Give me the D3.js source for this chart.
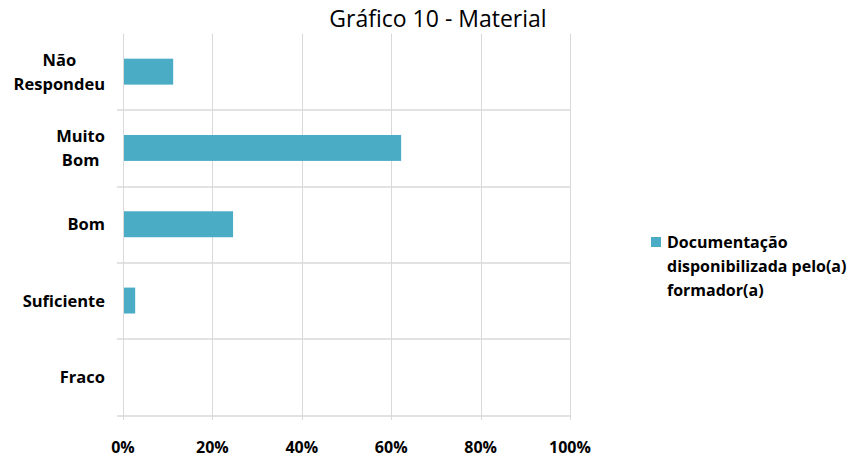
<!DOCTYPE html>
<html>
<head>
<meta charset="utf-8">
<script src="https://cdn.jsdelivr.net/npm/d3@7"></script>
<style>
	body { margin: 0; background: #fff; }
	text { font-family: "Open Sans", Lato, sans-serif; fill: #000; }
</style>
</head>
<body>
<div id="chart-area"></div>
<script>
// DATA
const categories = ["Não Respondeu", "Muito Bom", "Bom", "Suficiente", "Fraco"]
const categoryLines = [["Não", "Respondeu"], ["Muito", "Bom"], ["Bom"], ["Suficiente"], ["Fraco"]]
const values = [11, 62, 24.4, 2.5, 0]   // percent
const ticks = [0, 20, 40, 60, 80, 100]
const seriesName = ["Documentação", "disponibilizada pelo(a)", "formador(a)"]
const title = "Gráfico 10 - Material"

// SIZE
const AREA_WIDTH = 856
const AREA_HEIGHT = 459
const MARGIN = { LEFT: 123, RIGHT: 286, TOP: 33.5, BOTTOM: 44 }
const WIDTH = AREA_WIDTH - MARGIN.LEFT - MARGIN.RIGHT
const HEIGHT = AREA_HEIGHT - MARGIN.TOP - MARGIN.BOTTOM

const BAR_COLOR = "#4BACC6"
const GRID_COLOR = "#D9D9D9"

const svg = d3.select("#chart-area").append("svg")
	.attr("width", AREA_WIDTH)
	.attr("height", AREA_HEIGHT)

const g = svg.append("g")
	.attr("transform", `translate(${MARGIN.LEFT},${MARGIN.TOP})`)

// SCALES
const x = d3.scaleLinear()
	.domain([0, 100])
	.range([0, WIDTH])

const y = d3.scaleBand()
	.domain(categories)
	.range([0, HEIGHT])

const barH = y.bandwidth() * 0.34

// vertical gridlines (with a little tick below the plot)
g.selectAll(".vgrid")
	.data(ticks)
	.enter().append("line")
	.attr("x1", d => Math.round(x(d)) + 0.5)
	.attr("x2", d => Math.round(x(d)) + 0.5)
	.attr("y1", 0)
	.attr("y2", HEIGHT + 5)
	.attr("stroke", GRID_COLOR)

// horizontal lines at the category boundaries (with a little tick to the left)
const bounds = categories.map(c => y(c) + y.bandwidth())
g.selectAll(".hgrid")
	.data(bounds)
	.enter().append("line")
	.attr("x1", -6)
	.attr("x2", WIDTH)
	.attr("y1", d => Math.round(d) + 0.5)
	.attr("y2", d => Math.round(d) + 0.5)
	.attr("stroke", GRID_COLOR)
	.attr("stroke-width", 1.5)

// BARS
g.selectAll(".bar")
	.data(categories)
	.enter().append("rect")
	.attr("class", "bar")
	.attr("x", x(0) + 1)
	.attr("y", d => y(d) + (y.bandwidth() - barH) / 2)
	.attr("width", (d, i) => Math.max(0, x(values[i]) - x(0)))
	.attr("height", barH)
	.attr("fill", BAR_COLOR)

// X TICK LABELS
g.selectAll(".xlab")
	.data(ticks)
	.enter().append("text")
	.attr("x", d => x(d))
	.attr("y", HEIGHT + 38)
	.attr("text-anchor", "middle")
	.attr("font-size", "16px")
	.attr("font-weight", "bold")
	.text(d => d + "%")

// CATEGORY LABELS (wrapped lines centred, block right aligned)
const LABEL_RIGHT = -18
categories.forEach((c, i) => {
	const lines = categoryLines[i]
	const t = g.append("text")
		.attr("font-size", "16.5px")
		.attr("font-weight", "bold")
		.attr("text-anchor", "middle")
	const cy = y(c) + y.bandwidth() / 2
	const lh = 24
	const y0 = cy - (lines.length - 1) * lh / 2 + 6
	lines.forEach((l, j) => {
		t.append("tspan").attr("y", y0 + j * lh).text(l)
	})
	// find widest line to right-align the block
	let w = 0
	t.selectAll("tspan").each(function() { w = Math.max(w, this.getComputedTextLength()) })
	t.selectAll("tspan").attr("x", LABEL_RIGHT - w / 2)
})

// TITLE
svg.append("text")
	.attr("x", 438)
	.attr("y", 27)
	.attr("text-anchor", "middle")
	.attr("font-size", "23px")
	.text(title)

// LEGEND
const legend = svg.append("g")
	.attr("transform", "translate(651,237)")
legend.append("rect")
	.attr("width", 10)
	.attr("height", 10)
	.attr("fill", BAR_COLOR)
legend.append("text")
	.attr("font-size", "16px")
	.attr("font-weight", "bold")
	.selectAll("tspan")
	.data(seriesName)
	.enter().append("tspan")
	.attr("x", 16)
	.attr("y", (d, i) => 11 + i * 24)
	.text(d => d)
</script>
</body>
</html>
